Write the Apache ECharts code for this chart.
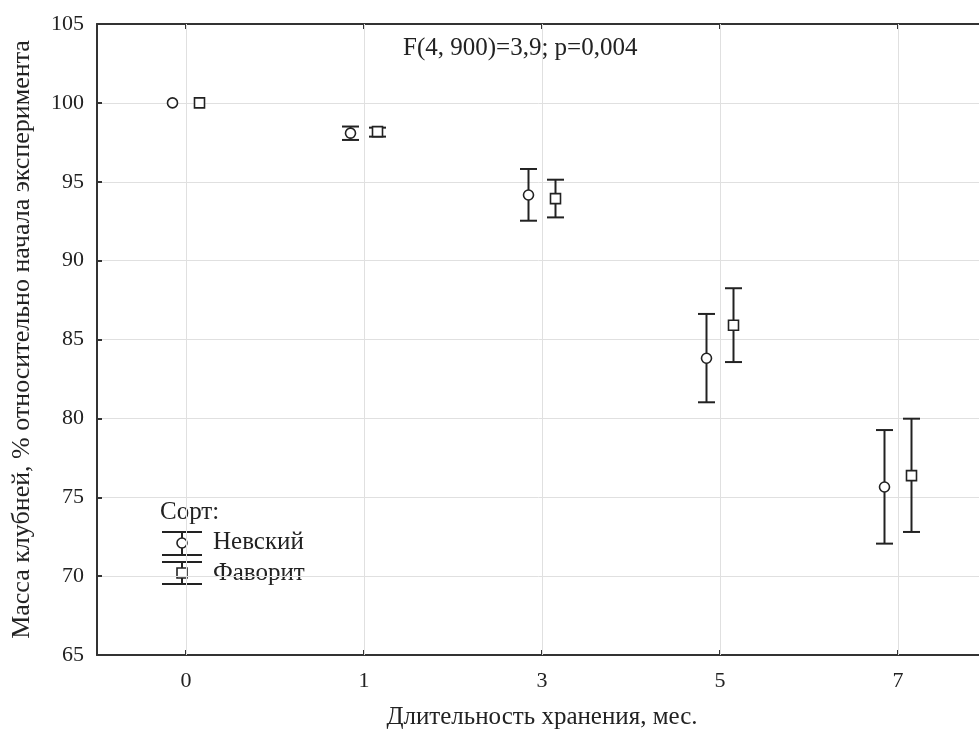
<!DOCTYPE html>
<html>
<head>
<meta charset="utf-8">
<script src="https://cdn.jsdelivr.net/npm/echarts@6/dist/echarts.min.js"></script>
<style>
  html, body { margin: 0; padding: 0; background: #fff; }
  #chart { width: 979px; height: 733px; }
</style>
</head>
<body>
<div id="chart"></div>
<script>
// Storage duration categories (months)
const months = ['0', '1', '3', '5', '7'];

// Tuber mass, % of the initial value: mean, lower and upper bound
const nevskyMean = [100.0, 98.08, 94.16, 83.81, 75.65];
const nevskyLow  = [100.0, 97.65, 92.53, 81.02, 72.06];
const nevskyHigh = [100.0, 98.50, 95.81, 86.62, 79.26];

const favoritMean = [100.0, 98.18, 93.93, 85.90, 76.37];
const favoritLow  = [100.0, 97.86, 92.74, 83.57, 72.80];
const favoritHigh = [100.0, 98.43, 95.13, 88.25, 79.98];

const yTicks = { min: 65, max: 105, step: 5 };

const varietyTitle = 'Сорт:';
const varietyNames = ['Невский', 'Фаворит'];
const statText = 'F(4, 900)=3,9; p=0,004';
const xTitle = 'Длительность хранения, мес.';
const yTitle = 'Масса клубней, % относительно начала эксперимента';

const FONT = '"Liberation Serif", "Times New Roman", serif';
const INK = '#222';
const GRID = '#e0e0e0';

function rows(mean, low, high) {
  return mean.map((m, i) => [i, m, low[i], high[i]]);
}

// Whisker + marker drawn at a horizontal offset from the category centre
function makeRenderer(offset, shape) {
  return function (params, api) {
    const i = api.value(0);
    const c = api.coord([i, api.value(1)]);
    const lo = api.coord([i, api.value(2)]);
    const hi = api.coord([i, api.value(3)]);
    const x = c[0] + offset;
    const capHalf = 8.5;
    const lineStyle = { stroke: INK, lineWidth: 2, fill: null };
    const children = [];
    if (Math.abs(lo[1] - hi[1]) > 0.5) {
      children.push(
        { type: 'line', shape: { x1: x, y1: hi[1], x2: x, y2: lo[1] }, style: lineStyle },
        { type: 'line', shape: { x1: x - capHalf, y1: hi[1], x2: x + capHalf, y2: hi[1] }, style: lineStyle },
        { type: 'line', shape: { x1: x - capHalf, y1: lo[1], x2: x + capHalf, y2: lo[1] }, style: lineStyle }
      );
    }
    const markStyle = { fill: '#fff', stroke: INK, lineWidth: 1.6 };
    if (shape === 'circle') {
      children.push({ type: 'circle', shape: { cx: x, cy: c[1], r: 5 }, style: markStyle });
    } else {
      children.push({ type: 'rect', shape: { x: x - 5, y: c[1] - 5, width: 10, height: 10 }, style: markStyle });
    }
    return { type: 'group', children: children };
  };
}

// Legend glyph: whisker with a marker in the middle
function legendGlyph(cx, yTop, yMid, yBot, shape) {
  const ls = { stroke: INK, lineWidth: 2 };
  const half = 20;
  const items = [
    { type: 'line', shape: { x1: cx, y1: yTop, x2: cx, y2: yBot }, style: ls },
    { type: 'line', shape: { x1: cx - half, y1: yTop, x2: cx + half, y2: yTop }, style: ls },
    { type: 'line', shape: { x1: cx - half, y1: yBot, x2: cx + half, y2: yBot }, style: ls }
  ];
  const ms = { fill: '#fff', stroke: INK, lineWidth: 1.6 };
  if (shape === 'circle') {
    items.push({ type: 'circle', shape: { cx: cx, cy: yMid, r: 5 }, style: ms });
  } else {
    items.push({ type: 'rect', shape: { x: cx - 5, y: yMid - 5, width: 10, height: 10 }, style: ms });
  }
  return items;
}

const chart = echarts.init(document.getElementById('chart'), null, { renderer: 'canvas' });

const axisLine = { show: true, lineStyle: { color: '#333', width: 2 } };
const tickStyle = { show: true, inside: true, alignWithLabel: true, length: 5, lineStyle: { color: '#333', width: 2 } };

chart.setOption({
  backgroundColor: '#fff',
  animation: false,
  grid: { left: 97, right: -8, top: 24, bottom: 78, containLabel: false, outerBoundsMode: 'none' },
  xAxis: [
    {
      type: 'category',
      data: months,
      boundaryGap: true,
      position: 'bottom',
      axisLine: axisLine,
      axisTick: tickStyle,
      axisLabel: { color: INK, fontFamily: FONT, fontSize: 22, margin: 15 },
      splitLine: { show: false },
      name: xTitle,
      nameLocation: 'middle',
      nameGap: 50,
      nameTextStyle: { color: INK, fontFamily: FONT, fontSize: 25 }
    },
    {
      type: 'category',
      data: months,
      boundaryGap: true,
      position: 'top',
      axisLine: axisLine,
      axisTick: tickStyle,
      axisLabel: { show: false },
      splitLine: { show: false }
    }
  ],
  yAxis: {
    type: 'value',
    min: yTicks.min,
    max: yTicks.max,
    interval: yTicks.step,
    axisLine: axisLine,
    axisTick: { show: true, inside: true, length: 5, lineStyle: { color: '#333', width: 2 } },
    axisLabel: { color: INK, fontFamily: FONT, fontSize: 22, margin: 13 },
    splitLine: { show: true, lineStyle: { color: GRID, width: 1 } },
    name: yTitle,
    nameLocation: 'middle',
    nameGap: 62,
    nameTextStyle: { color: INK, fontFamily: FONT, fontSize: 26 }
  },
  series: [
    {
      name: varietyNames[0],
      type: 'custom',
      xAxisIndex: 0,
      renderItem: makeRenderer(-13.5, 'circle'),
      encode: { x: 0, y: [1, 2, 3] },
      data: rows(nevskyMean, nevskyLow, nevskyHigh),
      z: 10,
      // vertical grid lines through the category centres
      markLine: {
        silent: true,
        symbol: 'none',
        label: { show: false },
        lineStyle: { color: GRID, width: 1, type: 'solid' },
        data: months.map(m => ({ xAxis: m }))
      }
    },
    {
      name: varietyNames[1],
      type: 'custom',
      xAxisIndex: 0,
      renderItem: makeRenderer(13.5, 'square'),
      encode: { x: 0, y: [1, 2, 3] },
      data: rows(favoritMean, favoritLow, favoritHigh),
      z: 10
    }
  ],
  graphic: [
    {
      type: 'text', left: 403, top: 36,
      style: { text: statText, fill: INK, font: '25px ' + FONT }
    },
    {
      type: 'text', left: 160, top: 500,
      style: { text: varietyTitle, fill: INK, font: '25px ' + FONT }
    },
    {
      type: 'group', left: 0, top: 0, bounding: 'raw',
      children: legendGlyph(182, 532, 543, 555, 'circle')
        .concat(legendGlyph(182, 562, 573, 584, 'square'))
    },
    {
      type: 'text', left: 213, top: 530,
      style: { text: varietyNames[0], fill: INK, font: '25px ' + FONT }
    },
    {
      type: 'text', left: 213, top: 561,
      style: { text: varietyNames[1], fill: INK, font: '25px ' + FONT }
    }
  ]
});
</script>
</body>
</html>
